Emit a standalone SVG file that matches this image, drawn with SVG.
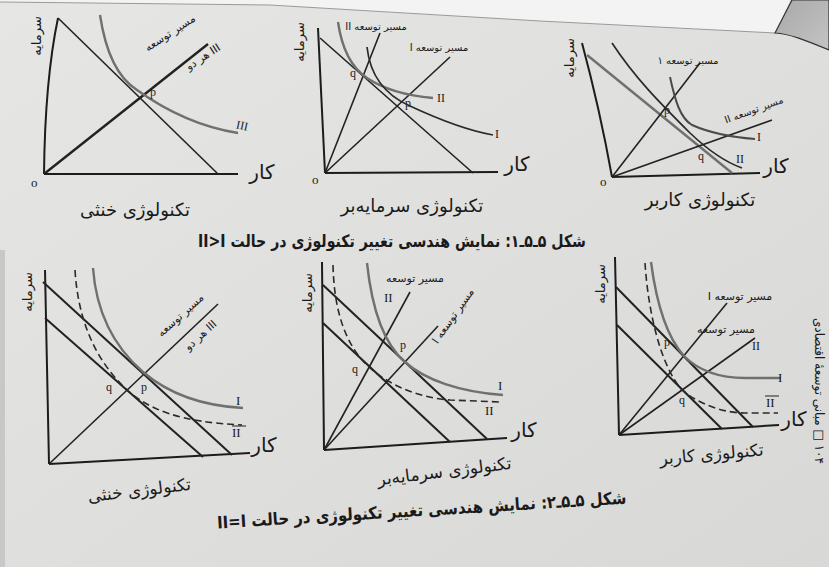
<svg xmlns="http://www.w3.org/2000/svg" width="829" height="567" viewBox="0 0 829 567">
<defs>
<style>
.ax{stroke:#1c1c1c;stroke-width:2;fill:none}
.ln{stroke:#222;stroke-width:1.6;fill:none}
.iso{stroke:#707070;stroke-width:2.4;fill:none}
.isod{stroke:#2a2a2a;stroke-width:1.7;fill:none}
.dash{stroke:#2a2a2a;stroke-width:1.6;fill:none;stroke-dasharray:7 4}
.fa{font-family:"DejaVu Sans",sans-serif;fill:#1a1a1a}
.lat{font-family:"Liberation Serif",serif;fill:#1a1a1a}
</style>
<linearGradient id="bg" x1="0" y1="0" x2="1" y2="1">
<stop offset="0" stop-color="#e6e6e4"/>
<stop offset="1" stop-color="#d8d8d6"/>
</linearGradient>
<linearGradient id="corner" x1="0" y1="0" x2="1" y2="1">
<stop offset="0" stop-color="#a8a8a8"/>
<stop offset="1" stop-color="#c4c4c4"/>
</linearGradient>
</defs>
<rect width="829" height="567" fill="url(#bg)"/>
<path d="M0,0 L829,0 L829,10 L790,0 L775,33 L540,21 L270,5 L0,2 Z" fill="#f3f3f3"/>
<path d="M0,2 L270,5 L540,21 L775,33" fill="none" stroke="#9a9a9a" stroke-width="1"/>
<path d="M775,33 L792,0 L829,0 L829,50 C805,40 790,34 775,33 Z" fill="url(#corner)" stroke="#333" stroke-width="1.2"/>
<rect x="0" y="250" width="5" height="317" fill="#c8c8c8"/>

<g id="chart-top-left">
<path class="ax" d="M44,174 Q45,80 58,18"/>
<path class="ax" d="M44,174 L238,174"/>
<path class="ln" d="M58,18 L218,174"/>
<path class="ln" style="stroke-width:2.4" d="M44,174 L208,44"/>
<path class="iso" d="M100,15 C106,55 118,78 137,90 C165,110 200,127 238,133"/>
<text class="lat" x="150" y="96" font-size="12">p</text>
<text class="lat" x="236" y="130" font-size="12" transform="rotate(12 244 127)">III</text>
<text class="lat" x="31" y="187" font-size="13">o</text>
<text class="fa" x="262" y="179" font-size="20" text-anchor="middle" direction="rtl">کار</text>
<text class="fa" font-size="13" text-anchor="middle" direction="rtl" transform="translate(41,36) rotate(-90)">سرمایه</text>
<text class="fa" font-size="11" text-anchor="middle" direction="rtl" transform="translate(172,36) rotate(-33)">مسیر توسعه</text>
<text class="fa" font-size="11" text-anchor="middle" direction="rtl" transform="translate(205,60) rotate(-33)">III هر دو</text>
<text class="fa" x="135" y="216" font-size="18" text-anchor="middle" direction="rtl">تکنولوژی خنثی</text>
</g>

<g id="chart-top-middle">
<path class="ax" d="M318,28 L325,173"/>
<path class="ax" d="M325,173 L498,172"/>
<path class="ln" d="M320,38 L473,173"/>
<path class="ln" d="M325,173 L380,33"/>
<path class="ln" d="M325,173 L450,57"/>
<path class="iso" d="M338,22 C342,50 352,68 367,78 C385,90 410,96 433,98"/>
<path class="isod" d="M367,47 C370,75 385,95 410,106 C440,120 465,130 493,135"/>
<text class="lat" x="350" y="77" font-size="12">q</text>
<text class="lat" x="405" y="107" font-size="12">p</text>
<text class="lat" x="437" y="102" font-size="12">II</text>
<text class="lat" x="495" y="138" font-size="12">I</text>
<text class="lat" x="312" y="184" font-size="13">o</text>
<text class="fa" x="517" y="171" font-size="20" text-anchor="middle" direction="rtl">کار</text>
<text class="fa" font-size="13" text-anchor="middle" direction="rtl" transform="translate(304,42) rotate(-90)">سرمایه</text>
<text class="fa" x="376" y="30" font-size="10" text-anchor="middle" direction="rtl">مسیر توسعه II</text>
<text class="fa" x="439" y="51" font-size="10" text-anchor="middle" direction="rtl">مسیر توسعه I</text>
<text class="fa" x="412" y="212" font-size="18" text-anchor="middle" direction="rtl">تکنولوژی سرمایه‌بر</text>
</g>

<g id="chart-top-right">
<path class="ax" d="M582,43 Q600,110 612,177"/>
<path class="ax" d="M612,177 L760,173"/>
<path class="iso" d="M587,55 L732,173"/>
<path class="ln" d="M612,177 L700,63"/>
<path class="ln" d="M612,177 L772,120"/>
<path class="isod" d="M612,43 C635,78 660,103 690,133 C710,152 725,162 742,168"/>
<path class="iso" style="stroke:#4a4a4a;stroke-width:2" d="M670,77 C675,100 680,118 692,125 C710,133 730,137 755,139"/>
<text class="lat" x="664" y="114" font-size="12">p</text>
<text class="lat" x="698" y="160" font-size="12">q</text>
<text class="lat" x="757" y="141" font-size="12">I</text>
<text class="lat" x="736" y="163" font-size="12">II</text>
<text class="lat" x="600" y="186" font-size="13">o</text>
<text class="fa" x="776" y="173" font-size="20" text-anchor="middle" direction="rtl">کار</text>
<text class="fa" font-size="13" text-anchor="middle" direction="rtl" transform="translate(574,58) rotate(-90)">سرمایه</text>
<text class="fa" x="688" y="64" font-size="10" text-anchor="middle" direction="rtl">مسیر توسعه ۱</text>
<text class="fa" font-size="10" text-anchor="middle" direction="rtl" transform="translate(755,113) rotate(-20)">مسیر توسعه II</text>
<text class="fa" x="700" y="206" font-size="18" text-anchor="middle" direction="rtl">تکنولوژی کاربر</text>
</g>

<text id="caption-1" class="fa" x="392" y="247" font-size="17" font-weight="bold" text-anchor="middle" direction="rtl" textLength="388" lengthAdjust="spacingAndGlyphs">شکل ۵ـ۵ـ۱: نمایش هندسی تغییر تکنولوژی در حالت II&gt;I</text>

<g id="chart-bottom-left">
<path class="ax" d="M45,270 L49,464"/>
<path class="ax" d="M49,464 L250,453"/>
<path class="ln" style="stroke-width:2" d="M43,282 L232,455"/>
<path class="ln" style="stroke-width:2" d="M45,318 L203,457"/>
<path class="ln" d="M49,464 L218,304"/>
<path class="iso" d="M93,268 C96,310 112,345 143,372 C170,395 205,406 243,408"/>
<path class="dash" d="M75,270 C78,320 95,360 127,390 C150,410 180,422 242,425"/>
<text class="lat" x="106" y="391" font-size="12">q</text>
<text class="lat" x="141" y="391" font-size="12">p</text>
<text class="lat" x="236" y="405" font-size="13">I</text>
<text class="lat" x="232" y="437" font-size="13">II</text>
<path d="M232,426 L246,426" stroke="#222" stroke-width="1"/>
<text class="fa" x="264" y="452" font-size="20" text-anchor="middle" direction="rtl">کار</text>
<text class="fa" font-size="13" text-anchor="middle" direction="rtl" transform="translate(32,292) rotate(-90)">سرمایه</text>
<text class="fa" font-size="11" text-anchor="middle" direction="rtl" transform="translate(183,318) rotate(-42)">مسیر توسعه</text>
<text class="fa" font-size="11" text-anchor="middle" direction="rtl" transform="translate(203,338) rotate(-42)">III هر دو</text>
<text class="fa" font-size="17" text-anchor="middle" direction="rtl" transform="translate(140,496) rotate(-7)">تکنولوژی خنثی</text>
</g>

<g id="chart-bottom-middle">
<path class="ax" d="M322,262 L324,450"/>
<path class="ax" d="M324,450 L507,438"/>
<path class="ln" style="stroke-width:2" d="M323,285 L487,439"/>
<path class="ln" style="stroke-width:2" d="M323,323 L450,442"/>
<path class="ln" d="M324,450 L410,292"/>
<path class="ln" d="M324,450 L438,326"/>
<path class="iso" d="M367,263 C372,310 385,345 405,362 C425,380 460,392 503,395"/>
<path class="dash" d="M333,265 C334,310 345,345 369,367 C390,386 420,398 450,400 L500,402"/>
<text class="lat" x="352" y="373" font-size="12">q</text>
<text class="lat" x="400" y="349" font-size="12">p</text>
<text class="lat" x="498" y="390" font-size="13">I</text>
<text class="lat" x="485" y="415" font-size="13">II</text>
<text class="fa" x="524" y="437" font-size="20" text-anchor="middle" direction="rtl">کار</text>
<text class="fa" font-size="13" text-anchor="middle" direction="rtl" transform="translate(312,293) rotate(-90)">سرمایه</text>
<text class="fa" x="415" y="282" font-size="11" text-anchor="middle" direction="rtl">مسیر توسعه</text>
<text class="lat" x="384" y="302" font-size="13">II</text>
<text class="fa" font-size="11" text-anchor="middle" direction="rtl" transform="translate(456,318) rotate(-55)">مسیر توسعه I</text>
<text class="fa" font-size="17" text-anchor="middle" direction="rtl" transform="translate(445,477) rotate(-7)">تکنولوژی سرمایه‌بر</text>
</g>

<g id="chart-bottom-right">
<path class="ax" d="M615,257 L619,435"/>
<path class="ax" d="M619,435 L779,425"/>
<path class="ln" style="stroke-width:2" d="M616,287 L753,427"/>
<path class="ln" style="stroke-width:2" d="M617,325 L722,429"/>
<path class="ln" d="M619,435 L727,303"/>
<path class="ln" d="M619,435 L755,338"/>
<path class="iso" d="M651,262 C656,300 665,335 684,356 C700,372 720,378 745,378 L781,378"/>
<path class="dash" d="M645,263 C648,310 660,365 682,390 C700,405 725,413 745,413 L778,413"/>
<text class="lat" x="664" y="346" font-size="12">p</text>
<text class="lat" x="679" y="404" font-size="12">q</text>
<text class="lat" x="778" y="382" font-size="13">I</text>
<text class="lat" x="766" y="407" font-size="13">II</text>
<path d="M765,396 L779,396" stroke="#222" stroke-width="1"/>
<text class="fa" x="794" y="426" font-size="20" text-anchor="middle" direction="rtl">کار</text>
<text class="fa" font-size="13" text-anchor="middle" direction="rtl" transform="translate(605,284) rotate(-90)">سرمایه</text>
<text class="fa" x="740" y="300" font-size="11" text-anchor="middle" direction="rtl">مسیر توسعه I</text>
<text class="fa" x="726" y="333" font-size="11" text-anchor="middle" direction="rtl">مسیر توسعه</text>
<text class="lat" x="752" y="350" font-size="12">II</text>
<text class="fa" font-size="17" text-anchor="middle" direction="rtl" transform="translate(712,460) rotate(-5)">تکنولوژی کاربر</text>
</g>

<text id="caption-2" class="fa" font-size="17" font-weight="bold" text-anchor="middle" direction="rtl" textLength="410" lengthAdjust="spacingAndGlyphs" transform="translate(422,516) rotate(-3.5)">شکل ۵ـ۵ـ۲: نمایش هندسی تغییر تکنولوژی در حالت II=I</text>

<text id="page-header" class="fa" font-size="13" text-anchor="middle" direction="rtl" textLength="146" lengthAdjust="spacingAndGlyphs" transform="translate(815,391) rotate(90)">۱۰۴ □ مبانی توسعهٔ اقتصادی</text>
</svg>
